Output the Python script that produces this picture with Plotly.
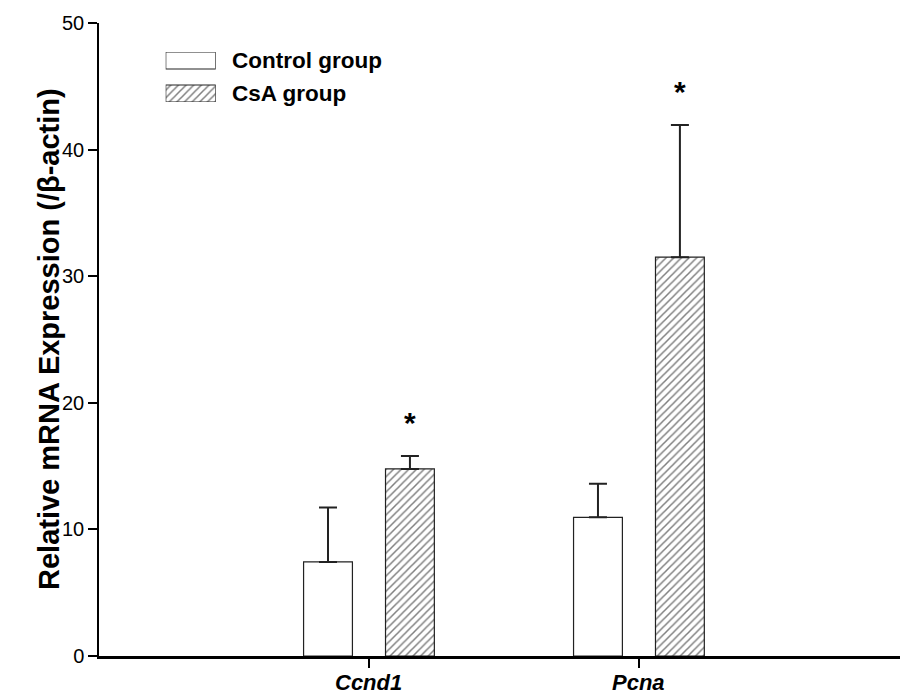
import plotly.graph_objects as go

# ---- data ----
categories = ["Ccnd1", "Pcna"]
control_mean = [7.43, 10.95]
control_err = [4.3, 2.65]
csa_mean = [14.78, 31.5]
csa_err = [1.02, 10.45]
star_labels = ["*", "*"]
y_ticks = [0, 10, 20, 30, 40, 50]
legend_names = ["Control group", "CsA group"]

FONT = "Liberation Sans, Arial, Helvetica, sans-serif"
HATCH = dict(shape="/", size=5.4, solidity=0.28, fgcolor="black", bgcolor="white", fillmode="overlay")

W, H = 900, 697
L, R, T, B = 99, 0, 23, 41
pw, ph = W - L - R, H - T - B


def px_x(p):
    return (p - L) / pw


def px_y(p):
    return (H - B - p) / ph


fig = go.Figure()

fig.add_trace(go.Bar(
    x=categories, y=control_mean, name=legend_names[0],
    marker=dict(color="white", line=dict(color="#222", width=1.2)),
    error_y=dict(type="data", array=control_err, arrayminus=[0, 0], symmetric=False,
                 color="#222", thickness=2, width=9),
    showlegend=False,
))
fig.add_trace(go.Bar(
    x=categories, y=csa_mean, name=legend_names[1],
    marker=dict(color="white", line=dict(color="#222", width=1.2), pattern=HATCH),
    error_y=dict(type="data", array=csa_err, arrayminus=[0, 0], symmetric=False,
                 color="#222", thickness=2, width=9),
    showlegend=False,
))

# significance stars above CsA bars
for cat, m, e, s in zip(categories, csa_mean, csa_err, star_labels):
    fig.add_annotation(x=cat, y=m + e, xref="x", yref="y", text="<b>" + s + "</b>", showarrow=False,
                       xshift=41, yshift=15, yanchor="bottom",
                       font=dict(family=FONT, size=30, color="black"))

# category labels (bold italic) placed under the ticks
for cat in categories:
    fig.add_annotation(x=cat, y=px_y(696), xref="x", yref="paper",
                       text="<b><i>" + cat + "</i></b>", showarrow=False,
                       xanchor="center", yanchor="bottom", borderpad=0,
                       font=dict(family=FONT, size=22, color="black"))

# ---- manual legend (inset axes) ----
leg_pos = [1, 0]
fig.add_trace(go.Bar(
    x=[1], y=[leg_pos[0]], orientation="h", xaxis="x2", yaxis="y2", width=0.515,
    marker=dict(color="white", line=dict(color="#222", width=1.2)), showlegend=False,
    hoverinfo="skip",
))
fig.add_trace(go.Bar(
    x=[1], y=[leg_pos[1]], orientation="h", xaxis="x2", yaxis="y2", width=0.515,
    marker=dict(color="white", line=dict(color="#222", width=1.2), pattern=HATCH),
    showlegend=False, hoverinfo="skip",
))
for name, p in zip(legend_names, leg_pos):
    fig.add_annotation(x=1, y=p, xref="x2", yref="y2", text="<b>" + name + "</b>",
                       showarrow=False, xanchor="left", yanchor="middle", xshift=14,
                       font=dict(family=FONT, size=22.5, color="black"))

# y-axis title as rotated annotation
fig.add_annotation(x=px_x(49), y=px_y(339), xref="paper", yref="paper",
                   text="<b>Relative mRNA Expression (/β-actin)</b>", textangle=-90,
                   showarrow=False, xanchor="center", yanchor="middle",
                   font=dict(family=FONT, size=29, color="black"))

fig.update_layout(
    width=W, height=H,
    margin=dict(l=L, r=R, t=T, b=B, autoexpand=False),
    paper_bgcolor="white", plot_bgcolor="white",
    barmode="group", bargap=0.393, bargroupgap=0.404,
    font=dict(family=FONT, color="black"),
    xaxis=dict(
        type="category", range=[-1.0, 1.967], automargin=False,
        showline=True, linecolor="black", linewidth=2.8,
        ticks="outside", ticklen=9, tickwidth=1.5, tickcolor="black",
        showticklabels=False,
        showgrid=False, zeroline=False,
    ),
    yaxis=dict(
        range=[0, 50], tickvals=y_ticks, automargin=False,
        showline=True, linecolor="black", linewidth=1.5,
        ticks="outside", ticklen=9, tickwidth=1.5, tickcolor="black",
        tickfont=dict(family=FONT, size=20, color="black"),
        showgrid=False, zeroline=False,
    ),
    xaxis2=dict(domain=[px_x(165.7), px_x(215.7)], range=[0, 1], anchor="y2",
                visible=False, fixedrange=True),
    yaxis2=dict(domain=[px_y(102), px_y(52)], range=[-0.2576, 1.2576], anchor="x2",
                visible=False, fixedrange=True),
)

fig.write_html("out.html", config={"displayModeBar": False},
               post_script="document.body.style.margin='0';document.body.style.overflow='hidden';")
